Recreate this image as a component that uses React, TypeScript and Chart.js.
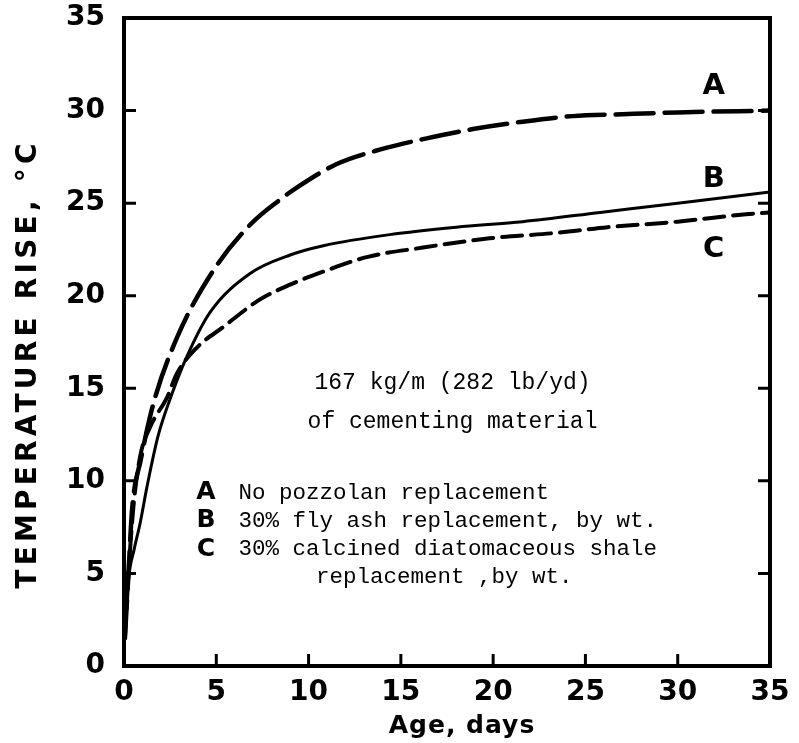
import React, { useEffect, useRef } from "react";
import { Chart, registerables } from "chart.js";

Chart.register(...registerables);

// Curve A: no pozzolan replacement (long dashes)
const ageA = [0.05, 0.22, 0.45, 0.9, 1.6, 2.9, 4.8, 6.9, 8.6, 9.3, 11.5, 13.9, 16.4, 18.9, 21.6, 24.3, 27, 30, 35];
const riseA = [1.5, 4.6, 8.6, 11.1, 14.2, 17.8, 21.3, 23.9, 25.3, 25.8, 27.1, 27.9, 28.5, 29.0, 29.4, 29.7, 29.8, 29.9, 30.0];

// Curve B: 30% fly ash (solid)
const ageB = [0.05, 0.25, 0.55, 0.87, 1.25, 1.84, 2.6, 3.4, 4.66, 6.83, 9.0, 10.8, 14.4, 18.0, 21.6, 25.8, 30, 35];
const riseB = [1.5, 4.7, 6.3, 7.7, 9.7, 12.4, 14.7, 16.7, 19.1, 21.2, 22.2, 22.7, 23.3, 23.7, 24.0, 24.5, 25.0, 25.6];

// Curve C: 30% calcined diatomaceous shale (short dashes)
const ageC = [0.05, 0.22, 0.5, 0.87, 1.41, 2.33, 2.87, 3.95, 5.36, 7.37, 9.0, 10.8, 13.2, 16.2, 19.8, 23.5, 26.2, 30, 33.7, 35];
const riseC = [1.5, 4.6, 8.5, 11.3, 12.9, 14.5, 15.8, 17.2, 18.3, 19.8, 20.6, 21.3, 22.1, 22.6, 23.1, 23.4, 23.7, 24.0, 24.4, 24.5];

const tickValues = [0, 5, 10, 15, 20, 25, 30, 35];
const curveLetters = ["A", "B", "C"];
const legendLines = [
  "No pozzolan replacement",
  "30% fly ash replacement, by wt.",
  "30% calcined diatomaceous shale",
  "replacement ,by wt.",
];
const noteLines = ["167 kg/m (282 lb/yd)", "of cementing material"];
const xTitle = "Age, days";
const yTitle = "TEMPERATURE RISE, °C";

const pts = (xs: number[], ys: number[]) => xs.map((x, i) => ({ x, y: ys[i] }));

const BOLD = '"DejaVu Sans", sans-serif';
const MONO = '"Liberation Mono", monospace';

const decorPlugin = {
  id: "decor",
  afterDraw(chart: any) {
    const { ctx, chartArea: a, scales } = chart;
    const xs = scales.x;
    const ys = scales.y;
    ctx.save();
    // frame
    ctx.strokeStyle = "#000";
    ctx.lineWidth = 4;
    ctx.strokeRect(a.left, a.top, a.right - a.left, a.bottom - a.top);
    // inward ticks
    ctx.lineWidth = 3;
    const tl = 12;
    tickValues.slice(1, -1).forEach((v) => {
      const px = xs.getPixelForValue(v);
      ctx.beginPath();
      ctx.moveTo(px, a.bottom);
      ctx.lineTo(px, a.bottom - tl);
      ctx.stroke();
      const py = ys.getPixelForValue(v);
      ctx.beginPath();
      ctx.moveTo(a.left, py);
      ctx.lineTo(a.left + tl, py);
      ctx.moveTo(a.right, py);
      ctx.lineTo(a.right - tl, py);
      ctx.stroke();
    });
    ctx.fillStyle = "#000";
    // curve letters
    ctx.font = `bold 29px ${BOLD}`;
    ctx.textAlign = "center";
    ctx.textBaseline = "middle";
    const letterY = [31.3, 26.3, 22.5];
    curveLetters.forEach((l, i) => {
      ctx.fillText(l, xs.getPixelForValue(31.95), ys.getPixelForValue(letterY[i]));
    });
    // note
    ctx.font = `23px ${MONO}`;
    ctx.fillText(noteLines[0], xs.getPixelForValue(17.8), ys.getPixelForValue(15.3));
    ctx.fillText(noteLines[1], xs.getPixelForValue(17.8), ys.getPixelForValue(13.2));
    // legend
    const rowY = [9.35, 7.85, 6.3, 4.8];
    ctx.font = `bold 25px ${BOLD}`;
    curveLetters.forEach((l, i) => {
      ctx.fillText(l, xs.getPixelForValue(4.44), ys.getPixelForValue(rowY[i]));
    });
    ctx.textAlign = "left";
    ctx.font = `22.5px ${MONO}`;
    legendLines.forEach((t, i) => {
      const x0 = i === 3 ? 10.4 : 6.2;
      ctx.fillText(t, xs.getPixelForValue(x0), ys.getPixelForValue(rowY[i]));
    });
    // axis titles
    ctx.textAlign = "center";
    ctx.textBaseline = "alphabetic";
    ctx.font = `bold 25px ${BOLD}`;
    (ctx as any).letterSpacing = "1px";
    ctx.fillText(xTitle, 462, 733);
    ctx.translate(36, 364);
    ctx.rotate(-Math.PI / 2);
    ctx.font = `bold 28px ${BOLD}`;
    (ctx as any).letterSpacing = "4.2px";
    ctx.fillText(yTitle, 0, 0);
    ctx.restore();
  },
};

export default function App() {
  const ref = useRef<HTMLCanvasElement | null>(null);
  useEffect(() => {
    if (!ref.current) return;
    const common = {
      fill: false,
      pointRadius: 0,
      borderColor: "#000",
      cubicInterpolationMode: "monotone" as const,
      borderCapStyle: "round" as const,
    };
    const chart = new Chart(ref.current, {
      type: "line",
      data: {
        datasets: [
          { ...common, label: "A", data: pts(ageA, riseA), borderWidth: 4.5, borderDash: [38, 11] },
          { ...common, label: "B", data: pts(ageB, riseB), borderWidth: 3 },
          { ...common, label: "C", data: pts(ageC, riseC), borderWidth: 4, borderDash: [20, 9] },
        ],
      },
      options: {
        animation: false,
        responsive: true,
        maintainAspectRatio: false,
        layout: { padding: { left: 0, top: 18, right: 29, bottom: 0 } },
        plugins: { legend: { display: false }, tooltip: { enabled: false } },
        scales: {
          x: {
            type: "linear",
            min: 0,
            max: 35,
            grid: { display: false, drawTicks: false },
            border: { display: false },
            ticks: {
              stepSize: 5,
              color: "#000",
              padding: 10,
              font: { family: BOLD, size: 28, weight: "bold" },
            },
            afterFit: (s: any) => {
              s.height = 77;
              s.paddingLeft = 0;
              s.paddingRight = 0;
            },
          },
          y: {
            type: "linear",
            min: 0,
            max: 35,
            grid: { display: false, drawTicks: false },
            border: { display: false },
            ticks: {
              stepSize: 5,
              color: "#000",
              padding: 19,
              font: { family: BOLD, size: 28, weight: "bold" },
            },
            afterFit: (s: any) => {
              s.width = 124;
              s.paddingTop = 0;
              s.paddingBottom = 0;
            },
          },
        },
      },
      plugins: [decorPlugin],
    });
    return () => chart.destroy();
  }, []);
  return (
    <div style={{ position: "fixed", left: 0, top: 0, width: 799, height: 743 }}>
      <canvas ref={ref} />
    </div>
  );
}
